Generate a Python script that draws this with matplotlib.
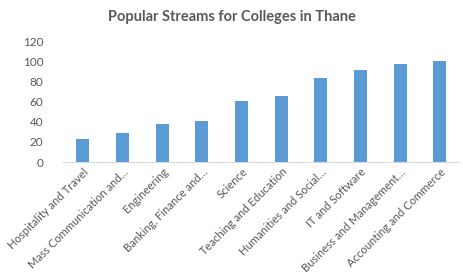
import matplotlib
matplotlib.use("Agg")
import matplotlib.pyplot as plt
import numpy as np

streams = [
    "Hospitality and Travel",
    "Mass Communication and…",
    "Engineering",
    "Banking, Finance and…",
    "Science",
    "Teaching and Education",
    "Humanities and Social…",
    "IT and Software",
    "Business and Management…",
    "Accounting and Commerce",
]
counts = [23, 29, 38, 41, 61, 66, 83, 91, 97, 100]
yticks = [0, 20, 40, 60, 80, 100, 120]

BAR = "#5B9BD5"
TXT = "#595959"
plt.rcParams["font.family"] = ["Lato", "DejaVu Sans"]

fig = plt.figure(figsize=(4.63, 2.76), dpi=100)
ax = fig.add_axes([0.136, 0.413, 0.857, 0.438])
x = np.arange(len(streams))
ax.bar(x, counts, width=0.33, color=BAR)
ax.set_xlim(-0.5, len(streams) - 0.5)
ax.set_ylim(0, 120)
ax.set_yticks(yticks)
ax.set_xticks(x)
ax.set_xticklabels(streams, rotation=45, ha="right", rotation_mode="anchor",
                   fontsize=8.1, color=TXT)
ax.tick_params(axis="y", length=0, labelsize=8.5, labelcolor=TXT, pad=14)
ax.tick_params(axis="x", length=0, pad=3)
for s in ["top", "right", "left"]:
    ax.spines[s].set_visible(False)
ax.spines["bottom"].set_color("#D9D9D9")
fig.text(0.5, 0.94, "Popular Streams for Colleges in Thane", ha="center", va="center",
         fontsize=10.5, fontweight="bold", color=TXT)
fig.savefig("out.png", dpi=100)
